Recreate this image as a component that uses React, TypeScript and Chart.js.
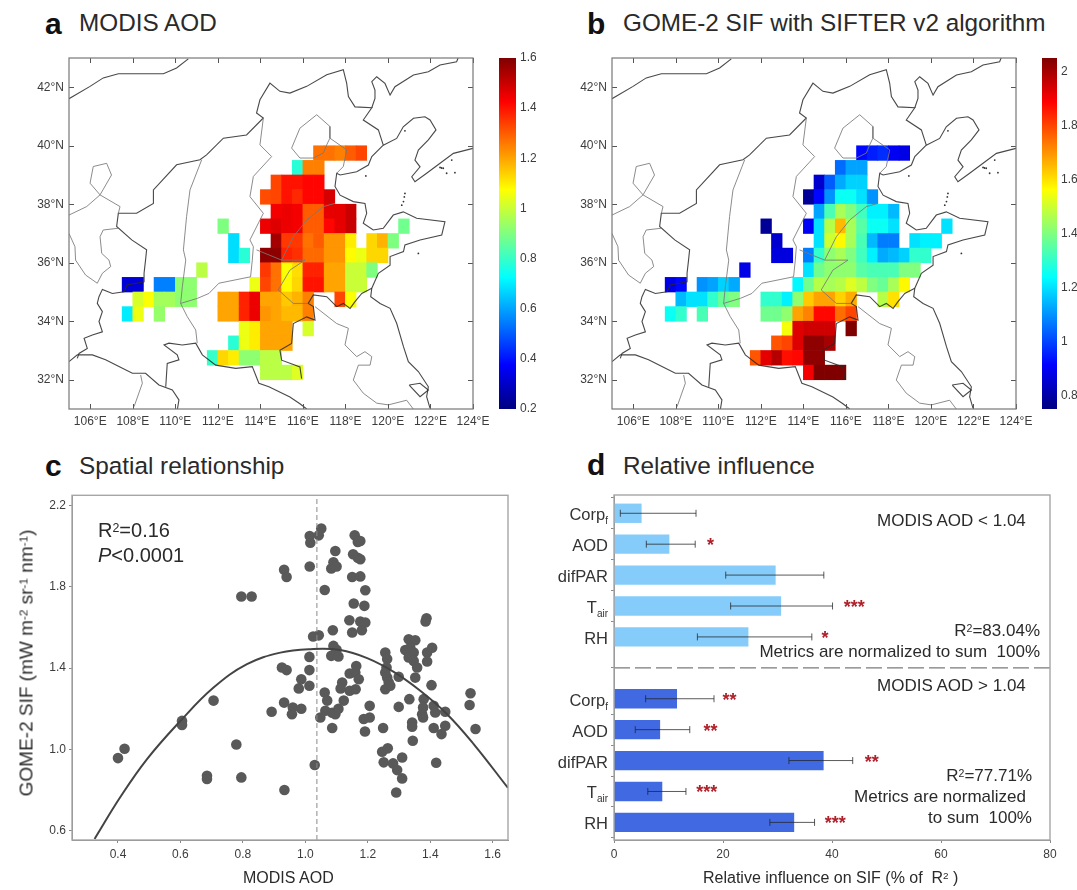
import React, { useEffect, useRef } from "react";
import { Chart, registerables } from "chart.js";

Chart.register(...registerables);

const FONT = "'Liberation Sans', Arial, sans-serif";

// ---------- Panels a, b: grid rows [lat of cell bottom, lon of first cell, values...]
const rowsAOD: number[][] = [
  [39.5, 116.5, 1.27, 1.27, 1.25, 1.3, 1.33],
  [39, 115.5, 0.78, 1.25, 1.25],
  [38.5, 114.5, 1.33, 1.4, 1.4, 1.42, 1.42],
  [38, 114, 1.32, 1.33, 1.4, 1.37, 1.42, 1.42, 1.48],
  [37.5, 114.5, 1.44, 1.45, 1.44, 1.3, 1.3, 1.46, 1.46, 1.5],
  [37, 112, 0.9],
  [37, 114, 1.45, 1.47, 1.45, 1.44, 1.3, 1.3, 1.42, 1.46, 1.5],
  [37, 120.5, 0.88],
  [36.5, 112.5, 0.68],
  [36.5, 114.5, 1.55, 1.35, 1.35, 1.27, 1.3, 1.22, 1.22, 1.1],
  [36.5, 119, 1.13, 1.18, 0.9],
  [36, 112.5, 0.68, 0.78],
  [36, 114, 1.58, 1.58, 1.38, 1.36, 1.28, 1.28, 1.22, 1.22, 1.08, 1.05, 1.13, 1.13],
  [35.5, 111, 0.98],
  [35.5, 114, 1.35, 1.27, 1.07, 1.12, 1.38, 1.38, 1.2, 1.2, 1, 1, 0.9],
  [35, 107.5, 0.32, 0.32],
  [35, 109, 0.55, 0.55, 0.92, 0.92],
  [35, 113.5, 1.05, 1.33, 1.27, 1.08, 1.13, 1.4, 1.4, 1.2, 1.2, 1, 1],
  [34.5, 108, 1.02, 1.07, 0.95, 0.95, 0.92, 0.92],
  [34.5, 112, 1.2, 1.2, 1.38, 1.45, 1.2, 1.2, 1.15, 1.18, 1.25],
  [34.5, 117.5, 1.33, 1.07],
  [34, 107.5, 0.7, 1.05],
  [34, 109, 0.93],
  [34, 112, 1.2, 1.2, 1.38, 1.45, 1.22, 1.2, 1.17, 1.17, 1.25],
  [33.5, 113, 1.05, 1.1, 1.2, 1.2, 1.2],
  [33.5, 116, 1.02],
  [33, 112.5, 0.78, 1.05, 1.1, 1.2, 1.2, 1.2],
  [32.5, 111.5, 0.8, 1.13, 1.1, 0.92, 0.92, 0.98, 0.98],
  [32, 114, 0.98, 0.98, 0.98, 1.03],
];

const rowsSIF: number[][] = [
  [39.5, 116.5, 0.92, 0.95, 0.97, 0.9, 0.88],
  [39, 115.5, 1.05, 1.12, 1.12],
  [38.5, 114.5, 0.85, 1.03, 1.13, 1.18, 1.18],
  [38, 114, 0.78, 0.92, 1.1, 1.25, 1.25, 1.2, 1.1],
  [37.5, 114.5, 1.12, 1.33, 1.45, 1.4, 1.32, 1.22, 1.22, 1.15],
  [37, 112, 0.78],
  [37, 114, 0.9, 1.2, 1.47, 1.65, 1.45, 1.35, 1.25, 1.25, 1.2],
  [37, 120.5, 1.2],
  [36.5, 112.5, 0.85],
  [36.5, 114.5, 1.2, 1.5, 1.57, 1.45, 1.33, 1.15, 1.07, 1.07],
  [36.5, 119, 1.2, 1.22, 1.22],
  [36, 112.5, 0.87, 0.87],
  [36, 114, 1.07, 1.3, 1.42, 1.45, 1.4, 1.32, 1.22, 1.13, 1.15, 1.18, 1.3, 1.3],
  [35.5, 111, 0.88],
  [35.5, 114, 1.2, 1.38, 1.42, 1.42, 1.42, 1.35, 1.33, 1.33, 1.33, 1.4, 1.4],
  [35, 107.5, 0.88, 0.92],
  [35, 109, 1.1, 1.12, 1.18, 1.13],
  [35, 113.5, 1.23, 1.38, 1.47, 1.45, 1.47, 1.52, 1.48, 1.4, 1.37, 1.45, 1.57],
  [34.5, 108, 1.15, 1.2, 1.2, 1.3, 1.37, 1.4],
  [34.5, 112, 1.3, 1.3, 1.22, 1.42, 1.63, 1.68, 1.68, 1.62, 1.67],
  [34.5, 117.5, 1.47, 1.6],
  [34, 107.5, 1.25, 1.3],
  [34, 109, 1.33],
  [34, 112, 1.38, 1.38, 1.42, 1.68, 1.72, 1.88, 1.88, 1.75, 1.8],
  [33.5, 113, 1.55, 1.93, 1.95, 1.95, 1.95],
  [33.5, 116, 2.05],
  [33, 112.5, 1.78, 1.8, 1.93, 2.03, 2.03, 2.0],
  [32.5, 111.5, 1.78, 1.92, 1.98, 1.87, 1.88, 2.03, 2.03],
  [32, 114, 1.9, 2.05, 2.05, 2.05],
];

const lonTicks = [106, 108, 110, 112, 114, 116, 118, 120, 122, 124];
const latTicks = [32, 34, 36, 38, 40, 42];
const aodBarTicks = [0.2, 0.4, 0.6, 0.8, 1, 1.2, 1.4, 1.6];
const sifBarTicks = [0.8, 1, 1.2, 1.4, 1.6, 1.8, 2];

// ---------- Map outlines, [lon, lat]
const darkLines: number[][][] = [
  [[105, 41.61], [105.99, 42.03], [106.61, 42.32], [107.32, 42.46], [108.34, 42.46], [109.44, 42.46], [110.06, 42.66], [110.61, 42.97]],
  [[105, 32.62], [105.39, 32.85], [106.1, 32.85], [106.72, 32.68], [107.35, 32.45], [107.98, 32.22], [108.6, 32.22], [109.23, 31.82], [109.86, 31.65], [110.17, 31.31], [110.1, 31]],
  [[105.39, 32.73], [105.47, 32.9], [105.86, 33.07], [105.71, 33.42], [106.1, 33.53], [106.57, 33.64], [106.41, 33.99], [106.57, 34.33], [106.33, 34.61], [106.41, 34.84], [106.57, 35.09], [107.04, 34.95], [107.59, 35.01], [107.74, 35.24], [108.53, 35.35], [108.53, 35.64], [108.6, 36.09], [108.65, 36.44], [107.95, 36.78], [107.24, 37.24], [107.32, 37.69], [108.18, 37.69], [108.97, 38.03], [108.97, 38.49], [110.06, 39.35], [111.16, 39.52], [111.47, 39.69], [112.26, 40.26], [113.35, 40.37], [114.14, 40.95], [113.82, 41.12], [113.98, 41.57], [114.45, 42.14], [114.92, 41.86], [115.39, 41.8], [116.18, 42.03], [117.12, 42.43], [117.9, 42.6], [118.06, 42.13], [118.14, 41.68], [118.45, 41.33], [119.24, 41.3], [118.84, 40.88], [119.55, 40.54], [119.78, 40.02], [119.24, 39.63], [119.08, 39.34], [118.53, 39.11], [117.75, 39], [117.59, 39.06], [117.51, 38.61], [117.75, 38.31], [118.37, 38.09], [118.92, 38.03], [119, 37.69], [118.84, 37.35], [119.31, 37.12], [119.78, 37.18], [120.25, 37.63], [120.72, 37.74], [121.35, 37.52], [122.68, 37.4], [122.53, 36.95], [121.51, 36.78], [120.8, 36.61], [120.73, 36.38], [120.1, 36.21], [120.1, 35.92], [119.55, 35.64], [119.24, 35.13], [119.19, 34.84], [119.63, 34.61], [120.1, 34.44], [120.41, 33.93], [120.73, 33.13], [120.96, 32.62], [121.43, 32.28], [121.9, 31.76], [121.82, 31.42], [121.98, 31.02]],
  [[119.78, 40.02], [120.41, 40.25], [120.72, 40.65], [121.2, 40.94], [121.74, 40.99], [121.98, 40.88], [122.26, 40.54], [121.9, 40.2], [121.43, 39.85], [121.27, 39.51], [121.51, 39.28], [121.12, 38.94], [121.27, 38.77], [121.82, 39.06], [122.45, 39.4], [123.08, 39.74], [124, 39.91]],
  [[119.24, 41.3], [119.39, 41.62], [119.39, 41.9], [119.24, 42.19], [119.47, 42.36], [119.86, 42.13], [120.1, 41.73], [120.33, 42.02], [121.2, 42.42], [121.9, 42.53], [122.45, 42.76], [123.23, 42.87], [123.3, 43]],
  [[109.55, 31.76], [109.62, 32.56], [110.17, 32.68], [110.09, 32.85], [109.47, 33.19], [109.7, 33.25], [110.33, 33.19], [110.96, 33.25], [111.27, 32.85], [111.9, 32.5], [112.84, 32.39], [113.62, 32.45], [113.93, 31.88], [114.4, 31.76], [115.39, 31.41], [115.86, 31.18], [116.18, 31]],
  [[115.94, 32.04], [115.86, 32.44], [115, 32.67], [114.92, 33.01], [115.47, 33.24], [115.55, 33.92], [116.18, 34.15], [116.57, 34.04], [116.49, 34.5], [116.25, 34.61], [116.49, 34.9], [117.12, 34.84], [117.59, 34.5], [117.9, 34.61], [118.22, 34.44], [118.45, 34.67], [118.77, 34.95], [119.24, 35.13]],
  [[121, 31.82], [121.51, 31.88], [121.9, 31.65], [121.51, 31.42], [121, 31.82]],
];

const grayLines: number[][][] = [
  [[111.24, 39.52], [110.69, 38.49], [110.53, 37.58], [110.38, 36.44], [110.49, 36.09], [110.33, 35.18], [110.25, 34.61], [110.56, 34.16], [110.96, 33.7], [111.03, 33.25]],
  [[110.25, 34.61], [111.03, 34.78], [111.58, 34.95], [112.05, 35.3], [113.54, 35.52], [113.62, 36.09], [113.67, 36.55], [113.51, 36.78], [114.14, 37.69], [113.51, 38.26], [113.67, 38.95], [114.53, 39.63], [113.98, 40.03], [114.14, 40.95]],
  [[113.82, 36.44], [115, 36.09], [115.55, 36.89], [116.18, 37.46], [116.96, 37.92], [117.51, 38.03]],
  [[115, 36.09], [116.1, 36.09], [115.39, 35.75], [114.84, 35.07], [115.55, 34.61], [116.25, 34.61]],
  [[115.47, 39.92], [115.86, 40.6], [116.65, 41.06], [117.27, 40.66], [117.27, 40.26], [118.06, 39.86], [117.9, 39.29], [117.59, 39.06]],
  [[115.47, 39.92], [115.86, 39.58], [116.49, 39.58], [116.96, 39.75], [117.12, 40.03], [117.27, 40.26]],
  [[116.57, 34.5], [117.59, 33.92], [118.14, 33.76], [117.98, 33.19], [118.53, 32.79], [118.92, 32.96], [119.24, 32.79], [119.16, 32.5], [118.61, 32.5], [118.37, 31.99], [118.84, 31.54], [119.47, 31.2], [120.02, 31.14], [120.88, 31.3], [121.19, 31]],
  [[105, 37.63], [105.83, 37.92], [106.46, 38.32], [107, 39], [106.77, 39.4], [106.14, 39.29], [105.99, 38.72], [106.46, 38.32], [107.4, 37.92], [107.32, 37.69]],
  [[105, 37], [105.28, 36.55], [105.31, 36.09], [105.78, 35.58], [106.33, 35.3], [106.57, 35.64], [106.96, 35.87], [106.88, 36.09], [106.54, 36.32], [106.46, 36.89], [106.61, 37.12], [107.32, 37.18]],
  [[108.37, 32.16], [108.45, 31.88], [108.06, 31.08]],
];

const islands: number[][] = [
  [123, 39.51], [122.6, 39.23], [122.45, 39.26], [122.52, 39.24], [123.15, 39.08], [122.76, 39.06], [120.8, 40.51], [120.8, 38.37], [120.65, 37.97], [120.73, 38.09], [120.77, 38.25], [121.43, 36.32], [118.96, 38.97],
];

// ---------- Panel c
const aodValues = [
  0.4, 0.421, 0.605, 0.605, 0.706, 0.779, 0.685, 0.685, 0.795, 0.795, 0.828, 0.933, 1.03, 0.932, 0.94, 0.925, 0.94, 0.987, 0.979, 1.013, 1.013, 1.013,
  0.932, 0.96, 0.957, 0.987, 0.892, 1.014, 1.014, 1.016, 1.043, 1.051, 1.025, 1.043, 1.062, 1.096, 1.09, 1.083, 1.1, 1.088, 1.09, 1.1, 1.083, 1.106,
  1.062, 1.07, 1.048, 1.064, 1.086, 1.096, 1.106, 1.123, 1.086, 1.118, 1.113, 1.142, 1.161, 1.142, 1.16, 1.171, 1.163, 1.158, 1.168, 1.176, 1.153, 1.168,
  1.176, 1.15, 1.176, 1.192, 1.155, 1.189, 1.141, 1.176, 1.192, 1.15, 1.181, 1.206, 1.206, 1.187, 1.191, 1.256, 1.262, 1.26, 1.256, 1.262, 1.267, 1.256,
  1.272, 1.299, 1.249, 1.246, 1.264, 1.251, 1.281, 1.31, 1.294, 1.31, 1.291, 1.299, 1.333, 1.342, 1.342, 1.344, 1.32, 1.331, 1.352, 1.336, 1.347, 1.331,
  1.347, 1.358, 1.352, 1.388, 1.385, 1.39, 1.406, 1.39, 1.404, 1.379, 1.377, 1.374, 1.377, 1.411, 1.416, 1.448, 1.411, 1.448, 1.436, 1.419, 1.529, 1.526, 1.545,
];
const sifValues = [
  0.957, 1.003, 1.14, 1.12, 1.24, 1.024, 0.87, 0.854, 0.862, 1.752, 1.752, 0.8, 0.923, 1.884, 1.848, 1.403, 1.39, 1.345, 1.3, 1.313, 1.39, 1.455,
  1.23, 1.206, 1.173, 1.2, 1.185, 1.9, 2.05, 2.017, 2.053, 2.087, 1.555, 1.561, 1.784, 1.976, 1.92, 1.89, 1.9, 1.586, 1.509, 1.49, 1.46, 1.457,
  1.28, 1.24, 1.157, 1.19, 1.18, 1.173, 1.2, 1.24, 1.105, 1.329, 1.3, 1.288, 1.296, 1.373, 1.378, 1.345, 1.41, 2.053, 2.02, 2.025, 1.96, 1.943,
  1.935, 1.848, 1.851, 1.783, 1.718, 1.706, 1.635, 1.629, 1.624, 1.575, 1.586, 1.214, 1.157, 1.149, 1.088, 1.476, 1.444, 1.403, 1.378, 1.354, 1.329, 1.296,
  1.313, 1.357, 1.105, 0.988, 1.005, 0.936, 0.931, 0.96, 0.898, 0.857, 0.788, 1.209, 1.247, 1.132, 1.111, 1.042, 1.489, 1.542, 1.537, 1.5, 1.476, 1.452,
  1.435, 1.403, 1.353, 1.645, 1.629, 1.476, 1.5, 1.432, 1.316, 1.247, 1.206, 1.173, 1.157, 1.214, 1.181, 1.185, 1.105, 1.116, 1.075, 0.934, 1.276, 1.218, 1.1,
];
const curveX = [0.325, 0.407, 0.493, 0.6, 0.706, 0.813, 0.92, 1.016, 1.112, 1.198, 1.283, 1.368, 1.454, 1.539, 1.649];
const curveY = [0.559, 0.764, 0.952, 1.14, 1.304, 1.419, 1.476, 1.493, 1.489, 1.449, 1.381, 1.288, 1.173, 1.026, 0.81];
const thresholdAOD = 1.037;
const cXTicks = [0.4, 0.6, 0.8, 1.0, 1.2, 1.4, 1.6];
const cYTicks = [0.6, 1.0, 1.4, 1.8, 2.2];

// ---------- Panel d
const factorNames = ["Corp", "AOD", "difPAR", "T", "RH"];
const factorSubs = ["f", "", "", "air", ""];
const influenceLow = [5.0, 10.1, 29.6, 30.6, 24.6];
const errLowLow = [1.16, 5.93, 20.5, 21.4, 15.3];
const errHighLow = [15.05, 14.9, 38.5, 40.1, 36.3];
const starsLow = ["", "*", "", "***", "*"];
const starPosLow = [0, 17.7, 0, 44.1, 38.7];
const influenceHigh = [11.5, 8.4, 38.4, 8.8, 33.0];
const errLowHigh = [5.8, 3.9, 32.1, 6.2, 28.6];
const errHighHigh = [18.35, 13.9, 43.8, 13.2, 36.8];
const starsHigh = ["**", "**", "**", "***", "***"];
const starPosHigh = [21.2, 17.7, 47.3, 17, 40.6];
const dXTicks = [0, 20, 40, 60, 80];

// ---------- helpers
function jet(t: number): string {
  const c = (x: number) => Math.round(255 * Math.max(0, Math.min(1, x)));
  const r = Math.min(4 * t - 1.5, -4 * t + 4.5);
  const g = Math.min(4 * t - 0.5, -4 * t + 3.5);
  const b = Math.min(4 * t + 0.5, -4 * t + 2.5);
  return `rgb(${c(r)},${c(g)},${c(b)})`;
}

function fixTicks(values: number[]) {
  return (s: any) => {
    s.ticks = values.map((value) => ({ value }));
  };
}

function fitBox(size: { width?: number; height?: number }) {
  return (s: any) => {
    if (size.width !== undefined) s.width = size.width;
    if (size.height !== undefined) s.height = size.height;
    s.paddingLeft = 0;
    s.paddingRight = 0;
    s.paddingTop = 0;
    s.paddingBottom = 0;
  };
}

const tickFont = { family: FONT, size: 12 };
const tickColor = "#3c3c3c";

const inwardTicks = {
  id: "inwardTicks",
  afterDatasetsDraw(chart: any) {
    const { ctx, chartArea: a, scales } = chart;
    ctx.save();
    ctx.strokeStyle = "#555";
    ctx.lineWidth = 1;
    ctx.beginPath();
    for (const v of lonTicks) {
      const x = Math.round(scales.x.getPixelForValue(v)) + 0.5;
      ctx.moveTo(x, a.top);
      ctx.lineTo(x, a.top + 5);
      ctx.moveTo(x, a.bottom);
      ctx.lineTo(x, a.bottom - 5);
    }
    for (const v of latTicks) {
      const y = Math.round(scales.y.getPixelForValue(v)) + 0.5;
      ctx.moveTo(a.left, y);
      ctx.lineTo(a.left + 5, y);
      ctx.moveTo(a.right, y);
      ctx.lineTo(a.right - 5, y);
    }
    ctx.stroke();
    ctx.strokeStyle = "#777";
    ctx.lineWidth = 1.2;
    ctx.strokeRect(a.left, a.top, a.right - a.left, a.bottom - a.top);
    ctx.restore();
  },
};

const grayBox = {
  id: "grayBox",
  afterDatasetsDraw(chart: any) {
    const { ctx, chartArea: a } = chart;
    ctx.save();
    ctx.strokeStyle = "#a6a6a6";
    ctx.lineWidth = 1.4;
    ctx.strokeRect(a.left, a.top, a.right - a.left, a.bottom - a.top);
    ctx.restore();
  },
};

const factorLabels = {
  id: "factorLabels",
  afterDraw(chart: any) {
    const { ctx, chartArea: a, scales } = chart;
    ctx.save();
    ctx.textBaseline = "alphabetic";
    ctx.fillStyle = "#333";
    const rows = [...factorNames.map((n, i) => [n, factorSubs[i], i]), ...factorNames.map((n, i) => [n, factorSubs[i], i + 6])] as [string, string, number][];
    rows.forEach(([name, sub, idx]) => {
      const y = scales.y.getPixelForValue(idx) + 7;
      const right = a.left - 6;
      ctx.font = `10px ${FONT}`;
      const sw = sub ? ctx.measureText(sub).width : 0;
      ctx.textAlign = "right";
      if (sub) ctx.fillText(sub, right, y + 4);
      ctx.font = `16.5px ${FONT}`;
      ctx.fillText(name, right - sw, y);
    });
    ctx.fillStyle = "#b0202a";
    ctx.font = `bold 18px ${FONT}`;
    ctx.textAlign = "center";
    const draw = (labels: string[], pos: number[], off: number) =>
      labels.forEach((t, i) => {
        if (t) ctx.fillText(t, scales.x.getPixelForValue(pos[i]), scales.y.getPixelForValue(i + off) + 7);
      });
    draw(starsLow, starPosLow, 0);
    draw(starsHigh, starPosHigh, 6);
    ctx.restore();
  },
};

const baseOpts = {
  responsive: false,
  maintainAspectRatio: false,
  animation: false as const,
  events: [] as string[],
  plugins: { legend: { display: false }, tooltip: { enabled: false }, title: { display: false } },
};

const noGrid = { display: false, drawTicks: false };

function flatten(rows: number[][], vmin: number, vmax: number) {
  const data: any[] = [];
  const colors: string[] = [];
  rows.forEach(([lat, lon0, ...vals]) => {
    vals.forEach((v, i) => {
      data.push({ x: lon0 + 0.5 * i + 0.25, y: [lat, lat + 0.5] });
      colors.push(jet((v - vmin) / (vmax - vmin)));
    });
  });
  return { data, colors };
}

function mapConfig(rows: number[][], vmin: number, vmax: number, leftW: number) {
  const { data, colors } = flatten(rows, vmin, vmax);
  const line = (pts: number[][], color: string, w: number) => ({
    type: "scatter",
    data: pts.map(([x, y]) => ({ x, y })),
    showLine: true,
    borderColor: color,
    borderWidth: w,
    pointRadius: 0,
    tension: 0,
    order: 1,
  });
  return {
    type: "bar",
    data: {
      datasets: [
        { type: "bar", data, backgroundColor: colors, borderWidth: 0, barPercentage: 1, categoryPercentage: 1, grouped: false, order: 3 },
        ...grayLines.map((p) => line(p, "rgba(120,120,120,0.85)", 1)),
        ...darkLines.map((p) => line(p, "rgba(40,40,40,0.85)", 1.1)),
        { type: "scatter", data: islands.map(([x, y]) => ({ x, y })), pointRadius: 0.9, pointBackgroundColor: "#333", pointBorderWidth: 0, order: 1 },
      ],
    },
    options: {
      ...baseOpts,
      layout: { padding: { top: 8, right: 24, left: 0, bottom: 0 } },
      scales: {
        x: {
          type: "linear",
          min: 105,
          max: 124,
          offset: false,
          afterBuildTicks: fixTicks(lonTicks),
          afterFit: fitBox({ height: 26 }),
          grid: noGrid,
          border: { display: false },
          ticks: { font: tickFont, color: tickColor, autoSkip: false, maxRotation: 0, padding: 5, callback: (v: number) => `${v}°E` },
        },
        y: {
          type: "linear",
          min: 31,
          max: 43,
          afterBuildTicks: fixTicks(latTicks),
          afterFit: fitBox({ width: leftW }),
          grid: noGrid,
          border: { display: false },
          ticks: { font: tickFont, color: tickColor, autoSkip: false, padding: 5, callback: (v: number) => `${v}°N` },
        },
      },
    },
    plugins: [inwardTicks],
  };
}

function colorbarConfig(vmin: number, vmax: number, ticks: number[]) {
  return {
    type: "bar",
    data: {
      labels: [""],
      datasets: [
        {
          data: [[vmin, vmax]],
          borderWidth: 0,
          barPercentage: 1,
          categoryPercentage: 1,
          backgroundColor: (c: any) => {
            const a = c.chart.chartArea;
            if (!a) return "#000";
            const g = c.chart.ctx.createLinearGradient(0, a.bottom, 0, a.top);
            for (let i = 0; i <= 64; i++) g.addColorStop(i / 64, jet(i / 64));
            return g;
          },
        },
      ],
    },
    options: {
      ...baseOpts,
      layout: { padding: { top: 8, bottom: 8, left: 0, right: 0 } },
      scales: {
        x: { display: false },
        y: {
          position: "right",
          type: "linear",
          min: vmin,
          max: vmax,
          afterBuildTicks: fixTicks(ticks),
          afterFit: fitBox({ width: 20 }),
          grid: noGrid,
          border: { display: false },
          ticks: { font: tickFont, color: tickColor, autoSkip: false, padding: 4, callback: (v: number) => String(Math.round(v * 10) / 10) },
        },
      },
    },
  };
}

const axisGrid = { display: true, drawOnChartArea: false, drawTicks: true, tickLength: 3, tickColor: "#888" };

function scatterConfig() {
  return {
    type: "scatter",
    data: {
      datasets: [
        {
          data: aodValues.map((x, i) => ({ x, y: sifValues[i] })),
          pointRadius: 5.3,
          pointBackgroundColor: "#595959",
          pointBorderWidth: 0,
          order: 3,
        },
        {
          data: curveX.map((x, i) => ({ x, y: curveY[i] })),
          showLine: true,
          borderColor: "#444",
          borderWidth: 2,
          pointRadius: 0,
          tension: 0.4,
          order: 1,
        },
        {
          data: [{ x: thresholdAOD, y: 0.554 }, { x: thresholdAOD, y: 2.25 }],
          showLine: true,
          borderColor: "#8a8a8a",
          borderWidth: 1,
          borderDash: [5, 3],
          pointRadius: 0,
          order: 2,
        },
      ],
    },
    options: {
      ...baseOpts,
      layout: { padding: { top: 4, right: 6, left: 0, bottom: 0 } },
      scales: {
        x: {
          type: "linear",
          min: 0.2527,
          max: 1.649,
          afterBuildTicks: fixTicks(cXTicks),
          afterFit: fitBox({ height: 30 }),
          grid: axisGrid,
          border: { display: true, color: "#888", width: 1 },
          ticks: { font: tickFont, color: tickColor, autoSkip: false, maxRotation: 0, padding: 4, callback: (v: number) => v.toFixed(1) },
        },
        y: {
          type: "linear",
          min: 0.554,
          max: 2.25,
          afterBuildTicks: fixTicks(cYTicks),
          afterFit: fitBox({ width: 40 }),
          grid: axisGrid,
          border: { display: true, color: "#888", width: 1 },
          ticks: { font: tickFont, color: tickColor, autoSkip: false, padding: 3, callback: (v: number) => v.toFixed(1) },
        },
      },
    },
    plugins: [grayBox],
  };
}

function barsConfig() {
  const errSet = (lo: number, hi: number, idx: number, col: string) => ({
    type: "scatter",
    data: [{ x: lo, y: idx }, { x: hi, y: idx }],
    showLine: true,
    borderColor: col,
    borderWidth: 1,
    pointStyle: "line",
    rotation: 90,
    pointRadius: 3.5,
    pointBorderColor: col,
    pointBorderWidth: 1,
    order: 1,
  });
  const errCol = "rgba(35,35,35,0.75)";
  return {
    type: "bar",
    data: {
      datasets: [
        {
          type: "bar",
          data: influenceLow.map((x, i) => ({ x, y: i })),
          backgroundColor: "#85CCFA",
          borderWidth: 0,
          barThickness: 18.7,
          grouped: false,
          order: 3,
        },
        {
          type: "bar",
          data: influenceHigh.map((x, i) => ({ x, y: i + 6 })),
          backgroundColor: "#4169E1",
          borderWidth: 0,
          barThickness: 18.7,
          grouped: false,
          order: 3,
        },
        ...errLowLow.map((lo, i) => errSet(lo, errHighLow[i], i, errCol)),
        ...errLowHigh.map((lo, i) => errSet(lo, errHighHigh[i], i + 6, errCol)),
        {
          type: "scatter",
          data: [{ x: 0, y: 5 }, { x: 80, y: 5 }],
          showLine: true,
          borderColor: "#7a7a7a",
          borderWidth: 1.2,
          borderDash: [16, 5],
          pointRadius: 0,
          order: 2,
        },
      ],
    },
    options: {
      ...baseOpts,
      indexAxis: "y",
      datasets: { bar: { indexAxis: "y" } },
      layout: { padding: { top: 4, right: 20, left: 0, bottom: 0 } },
      scales: {
        x: {
          type: "linear",
          min: 0,
          max: 80,
          offset: false,
          afterBuildTicks: fixTicks(dXTicks),
          afterFit: fitBox({ height: 30 }),
          grid: axisGrid,
          border: { display: true, color: "#888", width: 1 },
          ticks: { font: tickFont, color: tickColor, autoSkip: false, maxRotation: 0, padding: 4 },
        },
        y: {
          type: "linear",
          reverse: true,
          min: -0.591,
          max: 10.57,
          offset: false,
          afterBuildTicks: fixTicks([0, 1, 2, 3, 4, 6, 7, 8, 9, 10]),
          afterFit: fitBox({ width: 64 }),
          grid: axisGrid,
          border: { display: true, color: "#888", width: 1 },
          ticks: { display: false },
        },
      },
    },
    plugins: [grayBox, factorLabels],
  };
}

function ChartBox({ left, top, width, height, make }: { left: number; top: number; width: number; height: number; make: () => any }) {
  const ref = useRef<HTMLCanvasElement | null>(null);
  useEffect(() => {
    const chart = new Chart(ref.current as HTMLCanvasElement, make());
    return () => chart.destroy();
  }, []);
  return (
    <canvas
      ref={ref}
      width={width}
      height={height}
      style={{ position: "absolute", left, top, width, height, display: "block" }}
    />
  );
}

function Txt({ x, y, size, children, right, bold, color }: any) {
  return (
    <div
      style={{
        position: "absolute",
        ...(right !== undefined ? { right: 1077 - right } : { left: x }),
        top: y,
        transform: "translateY(-50%)",
        fontFamily: FONT,
        fontSize: size,
        fontWeight: bold ? 700 : 400,
        color: color || "#2a2a2a",
        whiteSpace: "pre",
        lineHeight: 1,
      }}
    >
      {children}
    </div>
  );
}

const supStyle: React.CSSProperties = { fontSize: "0.62em", verticalAlign: "baseline", position: "relative", top: "-0.42em" };

export default function App() {
  return (
    <div style={{ position: "fixed", left: 0, top: 0, width: 1077, height: 890, background: "#fff", overflow: "hidden", filter: "blur(0.4px)" }}>
      <ChartBox left={20} top={50} width={477} height={385} make={() => mapConfig(rowsAOD, 0.2, 1.6, 49)} />
      <ChartBox left={563} top={50} width={477} height={385} make={() => mapConfig(rowsSIF, 0.75, 2.05, 49)} />
      <ChartBox left={499} top={50} width={37} height={367} make={() => colorbarConfig(0.2, 1.6, aodBarTicks)} />
      <ChartBox left={1042} top={50} width={35} height={367} make={() => colorbarConfig(0.75, 2.05, sifBarTicks)} />
      <ChartBox left={32} top={490} width={482} height={380} make={scatterConfig} />
      <ChartBox left={550} top={490} width={520} height={380} make={barsConfig} />

      <Txt x={45} y={24} size={30} bold color="#111">a</Txt>
      <Txt x={79} y={23} size={24.3}>MODIS AOD</Txt>
      <Txt x={587} y={24} size={30} bold color="#111">b</Txt>
      <Txt x={623} y={23} size={24.3}>GOME-2 SIF with SIFTER v2 algorithm</Txt>
      <Txt x={45} y={466} size={30} bold color="#111">c</Txt>
      <Txt x={79} y={466} size={24.3}>Spatial relationship</Txt>
      <Txt x={587} y={465} size={30} bold color="#111">d</Txt>
      <Txt x={623} y={466} size={24.3}>Relative influence</Txt>

      <Txt x={98} y={530} size={20}>R<span style={supStyle}>2</span>=0.16</Txt>
      <Txt x={98} y={555} size={20}><i>P</i>&lt;0.0001</Txt>
      <Txt x={243} y={878} size={16}>MODIS AOD</Txt>
      <div
        style={{
          position: "absolute",
          left: 26,
          top: 663,
          transform: "translate(-50%,-50%) rotate(-90deg)",
          fontFamily: FONT,
          fontSize: 19,
          color: "#2a2a2a",
          whiteSpace: "pre",
          lineHeight: 1,
        }}
      >
        GOME-2 SIF (mW m<span style={supStyle}>-2</span> sr<span style={supStyle}>-1</span> nm<span style={supStyle}>-1</span>)
      </div>

      <Txt x={877} y={520} size={17}>MODIS AOD &lt; 1.04</Txt>
      <Txt right={1040} y={630} size={17}>R<span style={supStyle}>2</span>=83.04%</Txt>
      <Txt right={1040} y={651} size={17}>Metrics are normalized to sum  100%</Txt>
      <Txt x={877} y={685} size={17}>MODIS AOD &gt; 1.04</Txt>
      <Txt right={1032} y={775} size={17}>R<span style={supStyle}>2</span>=77.71%</Txt>
      <Txt right={1026} y={796} size={17}>Metrics are normalized</Txt>
      <Txt right={1032} y={817} size={17}>to sum  100%</Txt>
      <Txt x={703} y={878} size={16}>Relative influence on SIF (% of  R<span style={supStyle}>2</span> )</Txt>
    </div>
  );
}
